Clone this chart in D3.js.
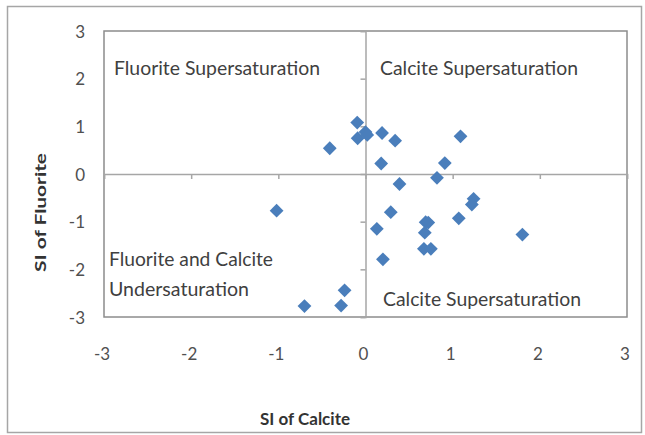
<html>
  <head>
    <script src="https://cdnjs.cloudflare.com/ajax/libs/d3/7.8.5/d3.min.js"></script>
    <style>
      body { margin: 0; background: #fff; }
      text { font-family: Lato, "Noto Sans", sans-serif; fill: #404040; }
    </style>
  </head>
  <body>
    <svg id="chart" width="645" height="435"></svg>
    <script>

      // SI of Calcite (x) and SI of Fluorite (y) for each sample
      let siCalcite  = [-0.095, 0.00, -0.09, 0.02, 0.19, 0.34, 1.09, -0.41, 0.18, 0.91, 0.82, 0.39,
                        -1.02, 0.29, 1.24, 1.22, 1.07, 0.69, 0.72, 0.68, 0.13, 1.80, 0.67, 0.75,
                        0.20, -0.24, -0.28, -0.70];
      let siFluorite = [1.08, 0.88, 0.75, 0.82, 0.86, 0.70, 0.79, 0.54, 0.22, 0.23, -0.08, -0.21,
                        -0.77, -0.80, -0.52, -0.64, -0.93, -1.01, -1.02, -1.23, -1.15, -1.27, -1.57, -1.57,
                        -1.79, -2.44, -2.76, -2.77];
      let ticks = [-3, -2, -1, 0, 1, 2, 3];

      var svg = d3.select("#chart");

      // chart border
      svg.append("rect")
        .attr("x", 7.5).attr("y", 6.5)
        .attr("width", 634).attr("height", 426)
        .style("fill", "none").style("stroke", "#a6a6a6").style("stroke-width", 1.5);

      var x = d3.scaleLinear().domain([-3, 3]).range([104, 627]);
      var y = d3.scaleLinear().domain([-3, 3]).range([317, 31]);

      // plot box
      svg.append("rect")
        .attr("x", x(-3)).attr("y", y(3))
        .attr("width", x(3) - x(-3)).attr("height", y(-3) - y(3))
        .style("fill", "none").style("stroke", "#8c8c8c").style("stroke-width", 1.5);

      // axes crossing at zero
      var xAxis = d3.axisBottom(x).tickValues(ticks).tickSize(5).tickFormat("");
      var yAxis = d3.axisLeft(y).tickValues(ticks).tickSize(5).tickFormat("");

      svg.append("g").attr("transform", "translate(0," + y(0) + ")").call(xAxis);
      svg.append("g").attr("transform", "translate(" + x(0) + ",0)").call(yAxis);
      svg.selectAll(".domain, .tick line").style("stroke", "#a6a6a6").style("stroke-width", 1.5);

      // tick labels at the low ends
      svg.selectAll("text.xlab")
        .data(ticks).enter().append("text")
        .attr("class", "xlab")
        .attr("x", d => x(d) - 2).attr("y", 360)
        .attr("text-anchor", "middle")
        .style("font-size", "17px").style("fill", "#505050")
        .text(d => d);

      svg.selectAll("text.ylab")
        .data(ticks).enter().append("text")
        .attr("class", "ylab")
        .attr("x", 85).attr("y", d => y(d) + 6.5)
        .attr("text-anchor", "end")
        .style("font-size", "17px").style("fill", "#505050")
        .text(d => d);

      // axis titles
      svg.append("text")
        .attr("x", 260).attr("y", 425)
        .attr("textLength", 90).attr("lengthAdjust", "spacingAndGlyphs")
        .style("font-size", "17px").style("font-weight", "bold").style("fill", "#333")
        .text("SI of Calcite");

      svg.append("text")
        .attr("transform", "translate(46,272) rotate(-90)")
        .attr("textLength", 119).attr("lengthAdjust", "spacingAndGlyphs")
        .style("font-size", "15px").style("font-weight", "bold").style("fill", "#333")
        .text("SI of Fluorite");

      // quadrant labels
      var labels = [
        { t: "Fluorite Supersaturation", x: 114, y: 75, w: 206 },
        { t: "Calcite Supersaturation", x: 380, y: 75, w: 198 },
        { t: "Fluorite and Calcite", x: 109, y: 266, w: 164 },
        { t: "Undersaturation", x: 109, y: 296, w: 140 },
        { t: "Calcite Supersaturation", x: 383, y: 306, w: 198 }
      ];
      svg.selectAll("text.quad")
        .data(labels).enter().append("text")
        .attr("class", "quad")
        .attr("x", d => d.x).attr("y", d => d.y)
        .attr("textLength", d => d.w)
        .attr("lengthAdjust", "spacingAndGlyphs")
        .style("font-size", "19px")
        .text(d => d.t);

      // diamonds
      var diamond = d3.symbol().type(d3.symbolSquare).size(95);
      svg.selectAll("path.pt")
        .data(d3.range(siCalcite.length)).enter().append("path")
        .attr("class", "pt")
        .attr("d", diamond)
        .attr("transform", i => "translate(" + x(siCalcite[i]) + "," + y(siFluorite[i]) + ") rotate(45)")
        .style("fill", "#4a7ebb");

    </script>
  </body>
</html>
